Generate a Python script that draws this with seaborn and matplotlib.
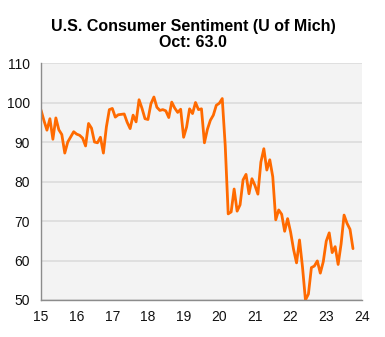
import matplotlib
matplotlib.use("Agg")
import matplotlib.pyplot as plt
import seaborn as sns
import pandas as pd
import numpy as np

years = [2015, 2016, 2017, 2018, 2019, 2020, 2021, 2022, 2023]
s2015 = [98.1, 95.4, 93.0, 95.9, 90.7, 96.1, 93.1, 91.9, 87.2, 90.0, 91.3, 92.6]
s2016 = [92.0, 91.7, 91.0, 89.0, 94.7, 93.5, 90.0, 89.8, 91.2, 87.2, 93.8, 98.2]
s2017 = [98.5, 96.3, 96.9, 97.0, 97.1, 95.0, 93.4, 96.8, 95.1, 100.7, 98.5, 95.9]
s2018 = [95.7, 99.7, 101.4, 98.8, 98.0, 98.2, 97.9, 96.2, 100.1, 98.6, 97.5, 98.3]
s2019 = [91.2, 93.8, 98.4, 97.2, 100.0, 98.2, 98.4, 89.8, 93.2, 95.5, 96.8, 99.3]
s2020 = [99.8, 101.0, 89.1, 71.8, 72.3, 78.1, 72.5, 74.1, 80.4, 81.8, 76.9, 80.7]
s2021 = [79.0, 76.8, 84.9, 88.3, 82.9, 85.5, 81.2, 70.3, 72.8, 71.7, 67.4, 70.6]
s2022 = [67.2, 62.8, 59.4, 65.2, 58.4, 50.0, 51.5, 58.2, 58.6, 59.9, 56.8, 59.7]
s2023 = [64.9, 67.0, 62.0, 63.5, 59.0, 64.2, 71.5, 69.4, 67.9, 63.0]
xtick_labels = ["15", "16", "17", "18", "19", "20", "21", "22", "23", "24"]
ytick_vals = [50, 60, 70, 80, 90, 100, 110]

series = [s2015, s2016, s2017, s2018, s2019, s2020, s2021, s2022, s2023]
xs, vals = [], []
for y, s in zip(years, series):
    for m, v in enumerate(s):
        xs.append((y - 2000) + m / 12.0)
        vals.append(v)
df = pd.DataFrame({"t": xs, "sent": vals})

sns.set_theme(style="white")
plt.rcParams['font.family'] = ['Liberation Sans', 'DejaVu Sans']

fig = plt.figure(figsize=(3.85, 3.37), dpi=100)
ax = fig.add_axes([0.1065, 0.1098, 0.8335, 0.7032])
ax.set_facecolor("#f3f3f3")

sns.lineplot(data=df, x="t", y="sent", ax=ax, color="#ff6a00", linewidth=2.0)

ax.set_xlim(15, 24)
ax.set_ylim(50, 110)
ax.set_xticks(range(15, 25))
ax.set_xticklabels(xtick_labels)
ax.set_yticks(ytick_vals)
ax.set_yticklabels([str(v) for v in ytick_vals])
ax.yaxis.grid(True, color="#dcdcdc", linewidth=1.2)
ax.set_axisbelow(True)
ax.set_xlabel("")
ax.set_ylabel("")
for sp in ["top", "right"]:
    ax.spines[sp].set_visible(False)
for sp in ["left", "bottom"]:
    ax.spines[sp].set_color("#8c8c8c")
    ax.spines[sp].set_linewidth(1.0)
ax.tick_params(axis="both", which="both", direction="out", length=4, width=1,
               color="#8c8c8c", labelsize=10, labelcolor="#111111", pad=3)
ax.tick_params(axis="y", pad=4)

fig.text(0.501, 0.921, "U.S. Consumer Sentiment (U of Mich)", ha="center", va="center",
         fontsize=11.5, fontweight="bold", color="#000000")
fig.text(0.501, 0.873, "Oct: 63.0", ha="center", va="center",
         fontsize=11.5, fontweight="bold", color="#000000")

fig.savefig("out.png", dpi=100, facecolor="white")
